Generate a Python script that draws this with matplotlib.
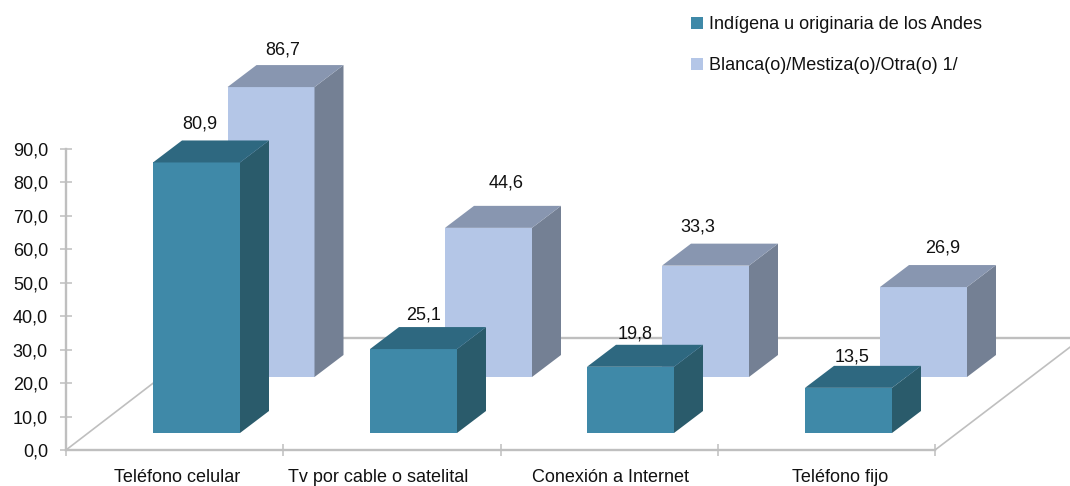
import matplotlib
matplotlib.use('Agg')
import matplotlib.pyplot as plt
from matplotlib.patches import Polygon, Patch
import numpy as np

categorias = ['Teléfono celular', 'Tv por cable o satelital', 'Conexión a Internet', 'Teléfono fijo']
indigena = [80.9, 25.1, 19.8, 13.5]
blanca = [86.7, 44.6, 33.3, 26.9]
nome_indigena = 'Indígena u originaria de los Andes'
nome_blanca = 'Blanca(o)/Mestiza(o)/Otra(o) 1/'

plt.rcParams['font.family'] = ['Liberation Sans', 'DejaVu Sans']

# eixo x em pixels da figura, eixo y em unidades do grafico
px = 3.344  # pixels por unidade
fig = plt.figure(figsize=(10.7, 4.86), dpi=100)
ax = fig.add_axes([0, 0, 1, 1])
ax.set_xlim(0, 1070)
ax.set_ylim(-36 / px, 450 / px)

largura = 87
dx = 29
dy = 22 / px


def barra(x, base, valor, frente, lado, topo):
    y = base + valor
    ax.add_patch(Polygon([(x, base), (x + largura, base), (x + largura, y), (x, y)],
                         fc=frente, ec='none', zorder=3))
    ax.add_patch(Polygon([(x + largura, base), (x + largura + dx, base + dy), (x + largura + dx, y + dy), (x + largura, y)],
                         fc=lado, ec='none', zorder=3))
    ax.add_patch(Polygon([(x, y), (x + largura, y), (x + largura + dx, y + dy), (x + dx, y + dy)],
                         fc=topo, ec='none', zorder=3))


# piso
cinza = '#bfbfbf'
fundo = (450 - 338) / px
ax.plot([66, 212], [0, fundo], color=cinza, lw=1.2, zorder=1)
ax.plot([212, 1082], [fundo, fundo], color=cinza, lw=1.7, zorder=1)
ax.plot([935, 1082], [0, fundo], color=cinza, lw=1.2, zorder=1)

x_tras = [227.5, 445, 662, 880]
x_frente = [153, 370, 587, 805]
base_tras = (450 - 377) / px
base_frente = (450 - 433) / px

for x, v in zip(x_tras, blanca):
    barra(x, base_tras, v, '#b4c6e7', '#748094', '#8896b0')
for x, v in zip(x_frente, indigena):
    barra(x, base_frente, v, '#3f89a8', '#2a5b6b', '#2e6880')

# rotulos de valores
rot_tras = [(283, 50), (506, 183), (698, 227), (943, 248)]
rot_frente = [(200, 124), (424, 315), (635, 334), (852, 357)]
for pos, v in zip(rot_tras + rot_frente, blanca + indigena):
    ax.text(pos[0], (450 - pos[1]) / px, f'{v:.1f}'.replace('.', ','), ha='center', va='center',
            fontsize=13, color='#111111', zorder=5)

# eixos
for s in ['top', 'right']:
    ax.spines[s].set_visible(False)
ax.patch.set_visible(False)
ax.spines['left'].set_position(('data', 66))
ax.spines['left'].set_bounds(0, 90)
ax.spines['bottom'].set_position(('data', 0))
ax.spines['bottom'].set_bounds(66, 935)
for s in ['left', 'bottom']:
    ax.spines[s].set_color(cinza)
    ax.spines[s].set_linewidth(1.7)

ax.set_yticks(np.arange(0, 100, 10))
ax.set_yticklabels([f'{v},0' for v in range(0, 100, 10)], fontsize=13, color='#111111')
ax.tick_params(axis='y', direction='inout', length=8, width=1.1, color=cinza, pad=9)

ax.set_xticks(np.linspace(66, 935, 5))
ax.set_xticklabels([])
ax.tick_params(axis='x', which='major', direction='inout', length=9, width=1.1, color=cinza)
ax.set_xticks([177, 378, 611, 840], minor=True)
ax.set_xticklabels(categorias, minor=True, fontsize=13, color='#111111')
ax.tick_params(axis='x', which='minor', length=0, pad=14)

# legenda
alca = [Patch(fc='#3f89a8', ec='none', label=nome_indigena), Patch(fc='#b4c6e7', ec='none', label=nome_blanca)]
ax.legend(handles=alca, loc='upper left', bbox_to_anchor=(675 / 1070, 1 - 0 / 486), frameon=False,
          fontsize=13, handlelength=0.67, handleheight=0.67, handletextpad=0.3, labelspacing=1.32,
          labelcolor='#111111')

fig.savefig('out.png', dpi=100)
